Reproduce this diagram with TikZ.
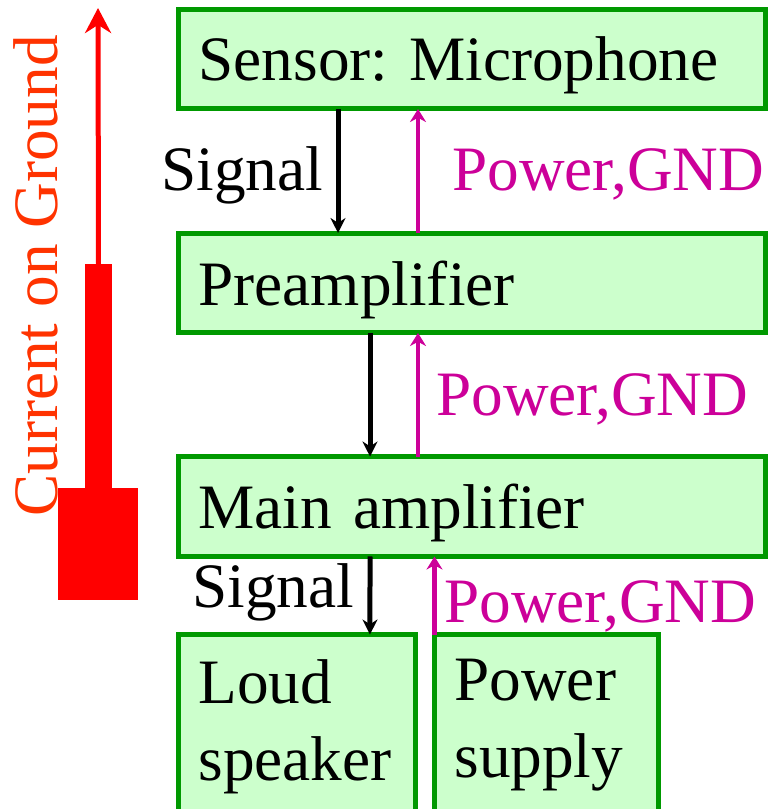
\documentclass[tikz,border=0pt]{standalone}
\usepackage{fontspec}
\setmainfont{Liberation Serif}
\usetikzlibrary{arrows.meta}

\definecolor{boxgreen}{RGB}{0,153,0}
\definecolor{boxfill}{RGB}{204,255,204}
\definecolor{pwrmagenta}{RGB}{204,0,153}
\definecolor{curorange}{RGB}{255,51,0}
\newcommand{\diagfont}{\fontsize{36}{43.7}\selectfont}
\frenchspacing

\tikzset{
  block/.style={draw=boxgreen, fill=boxfill, line width=0.1cm, outer sep=0pt,
    inner xsep=0.4cm, align=left, font=\diagfont},
  wideblock/.style={block, text width=10.95cm, minimum height=2cm, text depth=0pt},
  lowblock/.style={block, inner ysep=0.5cm, anchor=north west},
  sigarrow/.style={line width=0.1cm, -{Stealth[length=0.3cm, width=0.3cm]}},
  pwrarrow/.style={draw=pwrmagenta, line width=0.09cm, -{Stealth[length=0.26cm, width=0.32cm]}},
  lbl/.style={inner sep=0pt, anchor=base west, font=\diagfont},
  redbar/.style={fill=red, inner sep=0pt, outer sep=0pt},
}

\begin{document}
\begin{tikzpicture}[x=0.02cm, y=-0.02cm]
  \useasboundingbox (0,0) rectangle (769,809);

  % blocks
  \node (sensor) [wideblock] at (472.25,59) {Sensor: Microphone};
  \node (preamp) [wideblock] at (472.25,283) {Preamplifier};
  \node (mainamp) [wideblock] at (472.25,506.5) {Main amplifier};
  \node (speaker) [lowblock, text width=3.95cm] at (178.5,634.5) {Loud\\speaker};
  \node (supply) [lowblock, text width=3.69cm] at (434.5,634.5) {Power\\supply};

  % signal and power lines
  \draw[sigarrow] ([xshift=3.19cm]sensor.south west) -- ([xshift=3.19cm]preamp.north west);
  \draw[pwrarrow] ([xshift=4.79cm]preamp.north west) -- ([xshift=4.79cm]sensor.south west);
  \draw[sigarrow] ([xshift=3.83cm]preamp.south west) -- ([xshift=3.83cm]mainamp.north west);
  \draw[pwrarrow] ([xshift=4.79cm]mainamp.north west) -- ([xshift=4.79cm]preamp.south west);
  \draw[sigarrow] ([xshift=3.83cm]mainamp.south west) -- ([xshift=3.83cm]speaker.north west);
  \draw[pwrarrow] (supply.north west) -- (supply.north west |- mainamp.south);

  \node (sig1) [lbl] at (161,190) {Signal};
  \node (pwr1) [lbl, text=pwrmagenta] at (452,190) {Power,GND};
  \node (pwr2) [lbl, text=pwrmagenta] at (436,415) {Power,GND};
  \node (sig3) [lbl] at (192,607) {Signal};
  \node (pwr3) [lbl, text=pwrmagenta] at (444,622) {Power,GND};

  % ground current
  \node (gndblock) [redbar, minimum width=1.6cm, minimum height=2.24cm] at (98,544) {};
  \node (gndbar) [redbar, minimum width=0.54cm, minimum height=4.52cm] at (98.5,377) {};
  \coordinate (gndtop) at (98,8);
  \draw[red, line width=0.1cm, -{Stealth[length=0.5cm, width=0.52cm]}] (gndbar.north) -- (gndtop);
  \node (curlbl) [lbl, rotate=90, text=curorange] at (57,517) {Current on Ground};
\end{tikzpicture}
\end{document}
